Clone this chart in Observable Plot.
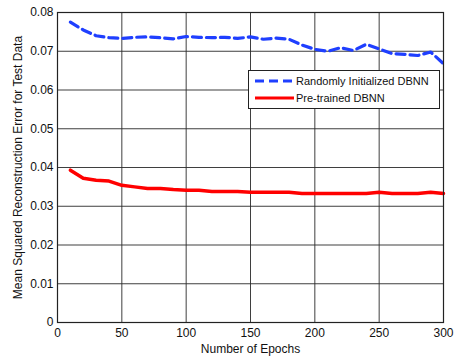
<!DOCTYPE html>
<html><head><meta charset="utf-8">
<script src="https://cdn.jsdelivr.net/npm/d3@7"></script>
<script src="https://cdn.jsdelivr.net/npm/@observablehq/plot@0.6"></script>
<style>body{margin:0;background:#fff} svg{font-family:"Liberation Sans",Arial,sans-serif}</style>
</head><body><div id="chart"></div>
<script>
const epochs = [10,20,30,40,50,60,70,80,90,100,110,120,130,140,150,160,170,180,190,200,210,220,230,240,250,260,270,280,290,300];
const randomInit = [0.0775,0.0755,0.0740,0.0735,0.0733,0.0736,0.0737,0.0735,0.0732,0.0738,0.0736,0.0735,0.0736,0.0733,0.0737,0.0731,0.0734,0.0731,0.0716,0.0705,0.0700,0.0709,0.0702,0.0718,0.0706,0.0694,0.0692,0.0689,0.0698,0.0668];
const pretrained = [0.0393,0.0372,0.0367,0.0365,0.0354,0.0350,0.0346,0.0346,0.0343,0.0341,0.0341,0.0338,0.0338,0.0338,0.0336,0.0336,0.0336,0.0336,0.0333,0.0333,0.0333,0.0333,0.0333,0.0333,0.0336,0.0333,0.0333,0.0333,0.0336,0.0333];
const xTicks = [0,50,100,150,200,250,300];
const yTicks = [0,0.01,0.02,0.03,0.04,0.05,0.06,0.07,0.08];
const seriesNames = ["Randomly Initialized DBNN","Pre-trained DBNN"];
const xLabel = "Number of Epochs";
const yLabel = "Mean Squared Reconstruction Error for Test Data";

const rowsA = epochs.map((e,i)=>({x:e,y:randomInit[i]}));
const rowsB = epochs.map((e,i)=>({x:e,y:pretrained[i]}));
const blue = "#1f3fff", red = "#ff0000";

const W=454,H=357, mL=57, mR=11, mT=12, mB=35;
const chart = Plot.plot({
  width:W, height:H, marginLeft:mL, marginRight:mR, marginTop:mT, marginBottom:mB,
  style:{fontFamily:"Liberation Sans, Arial, sans-serif", fontSize:"11px", background:"#fff"},
  x:{domain:[0,300]},
  y:{domain:[0,0.08]},
  marks:[
    Plot.gridX(xTicks,{stroke:"#2a2a2a",strokeOpacity:0.9}),
    Plot.gridY(yTicks,{stroke:"#2a2a2a",strokeOpacity:0.9}),
    Plot.line(rowsA,{x:"x",y:"y",stroke:blue,strokeWidth:3.2,strokeDasharray:"9,5",curve:"linear"}),
    Plot.line(rowsB,{x:"x",y:"y",stroke:red,strokeWidth:3.5,curve:"linear"}),
    Plot.frame({stroke:"#222",strokeWidth:1.2}),
    Plot.axisX(xTicks,{tickSize:0,tickPadding:6,fontSize:12,fill:"#111",label:null}),
    Plot.axisY(yTicks,{tickSize:0,tickPadding:4,fontSize:12,fill:"#111",label:null,tickFormat:d=>d===0?"0":d3.format(".2f")(d)}),
    Plot.text([xLabel],{frameAnchor:"bottom",dy:30,fontSize:12,fill:"#111"}),
    Plot.text([yLabel],{frameAnchor:"left",dx:-39,rotate:-90,textAnchor:"middle",fontSize:12,fill:"#111"})
  ]
});
document.getElementById("chart").appendChild(chart);

// legend
const svg = d3.select(chart);
const lg = svg.append("g").attr("text-anchor","start");
const lx=248, ly=70, lw=191, lh=38;
lg.append("rect").attr("x",lx+0.5).attr("y",ly+0.5).attr("width",lw).attr("height",lh).attr("fill","#fff").attr("stroke","#222").attr("stroke-width",1);
const items=[{n:seriesNames[0],c:blue,d:"9,5"},{n:seriesNames[1],c:red,d:null}];
items.forEach((it,i)=>{
  const yy = ly+11+i*17;
  const l = lg.append("line").attr("x1",lx+7).attr("x2",lx+46).attr("y1",yy).attr("y2",yy).attr("stroke",it.c).attr("stroke-width",3.2);
  if(it.d) l.attr("stroke-dasharray",it.d);
  lg.append("text").attr("x",lx+48).attr("y",yy+4).attr("font-size",11).attr("fill","#111").attr("text-anchor","start").text(it.n);
});
</script>
</body></html>
